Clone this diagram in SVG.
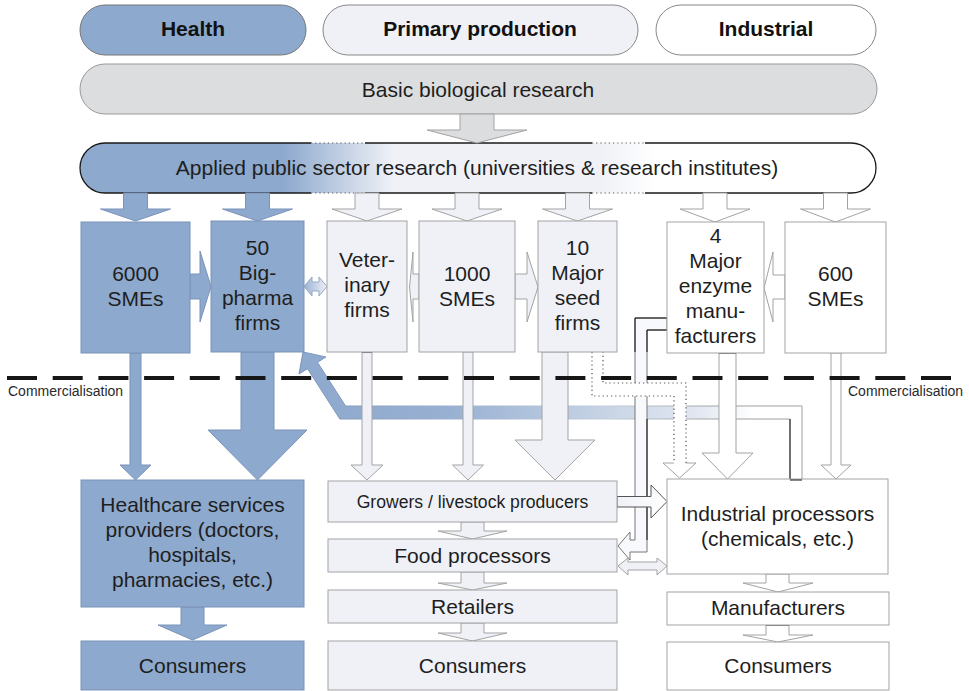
<svg xmlns="http://www.w3.org/2000/svg" width="969" height="691" viewBox="0 0 969 691">
<style>
.blue{fill:#8DA9CD;stroke:#7B93B8;stroke-width:1}
.light{fill:#EFF1F7;stroke:#A3A3A3;stroke-width:1}
.white{fill:#FFFFFF;stroke:#A3A3A3;stroke-width:1}
.grey{fill:#DCDDDF;stroke:#A3A3A3;stroke-width:1}
.t{font-family:"Liberation Sans",Arial,sans-serif;font-size:21px;fill:#1e1e1e;text-anchor:middle}
.b{font-weight:bold;fill:#111}
.sm{font-size:14px;text-anchor:start;fill:#2a2a2a}
.dk{fill:none;stroke:#1a1a1a;stroke-width:1.3}
.dot{fill:none;stroke:#555;stroke-width:1.2;stroke-dasharray:1.2 3}
</style>
<defs>
<linearGradient id="gApplied" gradientUnits="userSpaceOnUse" x1="80" y1="0" x2="876" y2="0">
<stop offset="0.255" stop-color="#8DA9CD"/>
<stop offset="0.393" stop-color="#EFF1F7"/>
<stop offset="0.653" stop-color="#EFF1F7"/>
<stop offset="0.725" stop-color="#FFFFFF"/>
</linearGradient>
<linearGradient id="gReturn" gradientUnits="userSpaceOnUse" x1="300" y1="0" x2="802" y2="0">
<stop offset="0" stop-color="#8DA9CD"/>
<stop offset="0.3" stop-color="#98B0D2"/>
<stop offset="0.62" stop-color="#C9D5E6"/>
<stop offset="0.8" stop-color="#E3E8F1"/>
<stop offset="0.9" stop-color="#FFFFFF"/>
</linearGradient>
<linearGradient id="gReturnS" gradientUnits="userSpaceOnUse" x1="300" y1="0" x2="802" y2="0">
<stop offset="0" stop-color="#7B93B8"/>
<stop offset="0.6" stop-color="#C3CFE0"/>
<stop offset="0.85" stop-color="#A0A0A0"/>
</linearGradient>
<linearGradient id="gBiVet" gradientUnits="userSpaceOnUse" x1="304" y1="0" x2="327" y2="0">
<stop offset="0" stop-color="#9BB2D3"/>
<stop offset="1" stop-color="#EFF1F7"/>
</linearGradient>
<linearGradient id="gGrowInd" gradientUnits="userSpaceOnUse" x1="617" y1="0" x2="667" y2="0">
<stop offset="0" stop-color="#EFF1F7"/>
<stop offset="1" stop-color="#FFFFFF"/>
</linearGradient>
</defs>

<rect width="969" height="691" fill="#FFFFFF"/>

<!-- header pills -->
<g id="hdr-health">
<rect x="80" y="5" width="226" height="50" rx="25" class="blue" style="stroke:#777"/>
<text x="193" y="36" class="t b">Health</text>
</g>
<g id="hdr-primary">
<rect x="323" y="5" width="315" height="50" rx="25" class="light" style="stroke:#888"/>
<text x="480" y="36" class="t b">Primary production</text>
</g>
<g id="hdr-industrial">
<rect x="656" y="5" width="220" height="50" rx="25" class="white" style="stroke:#888"/>
<text x="766" y="36" class="t b">Industrial</text>
</g>

<g id="basic">
<rect x="80" y="64" width="797" height="50" rx="25" class="grey" style="stroke:#999"/>
<text x="478" y="96.5" class="t">Basic biological research</text>
</g>

<g id="applied">
<rect x="80" y="143" width="796" height="50" rx="25" fill="url(#gApplied)"/>
<path class="dk" d="M311,143 L105,143 A25,25 0 0 0 105,193 L311,193 M365,143 L592,143 M365,193 L592,193 M645,143 L851,143 A25,25 0 0 1 851,193 L645,193"/>
<path class="dot" d="M311,143 L365,143 M311,193 L365,193 M592,143 L645,143 M592,193 L645,193"/>
<text x="477" y="175" class="t">Applied public sector research (universities &amp; research institutes)</text>
</g>

<!-- connectors -->
<g id="connectors">
<!-- return arrow from industrial processors to big pharma -->
<polygon points="303,352 326,357 317.5,362.3 345.6,406 802,406 802,480 790,480 790,419 339.8,419 307.5,368.7 299,374" fill="url(#gReturn)" stroke="url(#gReturnS)" stroke-width="1"/>
<path d="M790,419 L790,480 L802,480" fill="none" stroke="#111" stroke-width="1"/>

<!-- basic -> applied -->
<polygon class="grey" points="460,114 494,114 494,130 527,130 477,143 427,130 460,130"/>

<!-- applied -> boxes -->
<polygon class="blue" points="123.5,193 147.5,193 147.5,209 170.5,209 135.5,221 100.5,209 123.5,209"/>
<polygon class="blue" points="245.5,193 269.5,193 269.5,209 292.5,209 257.5,221 222.5,209 245.5,209"/>
<polygon class="light" points="355,193 379,193 379,209 402,209 367,221 332,209 355,209"/>
<polygon class="light" points="455,193 479,193 479,209 502,209 467,221 432,209 455,209"/>
<polygon class="light" points="565.5,193 589.5,193 589.5,209 612.5,209 577.5,221 542.5,209 565.5,209"/>
<polygon class="white" points="703,193 727,193 727,209 750,209 715,222 680,209 703,209"/>
<polygon class="white" points="823.5,193 847.5,193 847.5,209 870.5,209 835.5,222 800.5,209 823.5,209"/>

<!-- horizontal arrows between top boxes -->
<polygon class="blue" points="190,274 200,274 200,251 211,286.5 200,322 200,299 190,299"/>
<polygon points="304,286.5 312,277 312,282 319,282 319,277 327,286.5 319,296 319,291 312,291 312,296" fill="url(#gBiVet)" stroke="#95A8C4" stroke-width="1"/>
<polygon class="light" points="419,274 413,274 413,252 409.5,287 413,322 413,299 419,299"/>
<polygon class="light" points="515,274 527,274 527,252 538,287 527,322 527,299 515,299"/>
<polygon class="white" points="785,275 773,275 773,252 764,288 773,322 773,299 785,299"/>

<!-- down arrows to commercial level -->
<polygon class="blue" points="130,353 141,353 141,465 151,465 135.5,480 120,465 130,465"/>
<polygon class="blue" points="241,352 274,352 274,430 307,430 257.5,480 208,430 241,430"/>
<polygon class="light" points="362,352 372,352 372,465 383,465 367,480 351,465 362,465"/>
<path d="M362,352 L372,352" stroke="#111" stroke-width="1"/>
<polygon class="light" points="463,352 473,352 473,465 483.5,465 468,480 452.5,465 463,465"/>
<polygon class="light" points="542,352 568,352 568,440 595,440 555,480 515,440 542,440"/>
<polygon class="white" points="719,353 736,353 736,453 753,453 727.5,479 702,453 719,453"/>
<path d="M719,353 L736,353" stroke="#111" stroke-width="1"/>
<polygon class="white" points="831,353 841,353 841,465 851,465 836,479 821,465 831,465"/>

<!-- enzyme manufacturers -> food processors -->
<polygon points="667,318 635,318 635,540 630,540 630,532 618,546 630,560 630,552 647,552 647,330 667,330" fill="#F8F9FC" stroke="#777" stroke-width="1"/>
<path d="M635,352 L635,318 L667,318 M647,352 L647,330 L667,330 M647,419 L647,540" fill="none" stroke="#111" stroke-width="1"/>

<!-- seed firms -> industrial processors (dotted) -->
<polygon points="592,352 592,396 674,396 674,463 663,463 679.5,478 696,463 686,463 686,383 603,383 603,352" fill="#FFFFFF"/>
<path class="dot" d="M592,352 L592,396 L674,396 L674,463 M686,463 L686,383 L603,383 L603,352"/>
<path d="M674,463 L663,463 L679.5,478 L696,463 L686,463" fill="none" stroke="#A3A3A3" stroke-width="1"/>

<!-- lower chains -->
<polygon class="blue" points="181,607 204,607 204,625 227,625 192.5,640 158,625 181,625"/>
<polygon class="light" points="461,522 484,522 484,531 507,531 472.5,539 438,531 461,531"/>
<polygon class="light" points="461,572 484,572 484,583 507,583 472.5,590 438,583 461,583"/>
<polygon class="light" points="461,623 484,623 484,633 507,633 472.5,641 438,633 461,633"/>
<polygon class="white" points="766,574 789,574 789,583 813,583 778,592 743,583 766,583"/>
<polygon class="white" points="766,625 789,625 789,635 813,635 778,642 743,635 766,635"/>
<path d="M766,625 L789,625" stroke="#111" stroke-width="1"/>

<polygon points="617,496.5 651,496.5 651,485 667,501.5 651,518 651,507 617,507" fill="url(#gGrowInd)" stroke="#555" stroke-width="1"/>
<polygon class="light" points="618,566 628,558 628,562 657,562 657,558 667,566 657,575 657,570 628,570 628,575"/>

<!-- commercialisation line -->
<line x1="7" y1="378" x2="952" y2="378" stroke="#161616" stroke-width="4" stroke-dasharray="30 15.7"/>
</g>

<!-- top level boxes -->
<g id="n-6000">
<rect x="81" y="222" width="109" height="131" class="blue"/>
<text class="t" x="135.5"><tspan x="135.5" y="281">6000</tspan><tspan x="135.5" y="306">SMEs</tspan></text>
</g>
<g id="n-bigpharma">
<rect x="211" y="221" width="93" height="131" class="blue"/>
<text class="t"><tspan x="257.5" y="255">50</tspan><tspan x="257.5" y="280">Big-</tspan><tspan x="257.5" y="305">pharma</tspan><tspan x="257.5" y="330">firms</tspan></text>
</g>
<g id="n-vet">
<rect x="327" y="221" width="80" height="131" class="light"/>
<text class="t"><tspan x="367" y="267">Veter-</tspan><tspan x="367" y="292">inary</tspan><tspan x="367" y="317">firms</tspan></text>
</g>
<g id="n-1000">
<rect x="419" y="221" width="96" height="131" class="light"/>
<text class="t"><tspan x="467" y="281">1000</tspan><tspan x="467" y="306">SMEs</tspan></text>
</g>
<g id="n-seed">
<rect x="538" y="221" width="79" height="131" class="light"/>
<text class="t"><tspan x="577.5" y="255">10</tspan><tspan x="577.5" y="280">Major</tspan><tspan x="577.5" y="305">seed</tspan><tspan x="577.5" y="330">firms</tspan></text>
</g>
<g id="n-enzyme">
<rect x="667" y="222" width="97" height="131" class="white"/>
<text class="t"><tspan x="715.5" y="243">4</tspan><tspan x="715.5" y="268">Major</tspan><tspan x="715.5" y="293">enzyme</tspan><tspan x="715.5" y="318">manu-</tspan><tspan x="715.5" y="343">facturers</tspan></text>
</g>
<g id="n-600">
<rect x="785" y="222" width="101" height="131" class="white"/>
<text class="t"><tspan x="835.5" y="281">600</tspan><tspan x="835.5" y="306">SMEs</tspan></text>
</g>

<!-- commercialisation labels -->
<text class="t sm" x="8" y="395.5">Commercialisation</text>
<text class="t sm" x="848" y="395.5">Commercialisation</text>

<!-- lower boxes -->
<g id="n-healthcare">
<rect x="81" y="480" width="223" height="127" class="blue"/>
<text class="t"><tspan x="192.5" y="512">Healthcare services</tspan><tspan x="192.5" y="537">providers (doctors,</tspan><tspan x="192.5" y="562">hospitals,</tspan><tspan x="192.5" y="587">pharmacies, etc.)</tspan></text>
</g>
<g id="n-consumers-health">
<rect x="81" y="641" width="223" height="49" class="blue"/>
<text class="t" x="192.5" y="673">Consumers</text>
</g>
<g id="n-growers">
<rect x="328" y="481" width="289" height="41" class="light"/>
<text class="t" x="472.5" y="507.5" style="font-size:17.6px">Growers / livestock producers</text>
</g>
<g id="n-food">
<rect x="328" y="539" width="289" height="33" class="light"/>
<text class="t" x="472.5" y="563">Food processors</text>
</g>
<g id="n-retailers">
<rect x="328" y="590" width="289" height="33" class="light"/>
<text class="t" x="472.5" y="614">Retailers</text>
</g>
<g id="n-consumers-primary">
<rect x="328" y="641" width="289" height="49" class="light"/>
<text class="t" x="472.5" y="673">Consumers</text>
</g>
<g id="n-indproc">
<rect x="667" y="479" width="221" height="95" class="white"/>
<text class="t"><tspan x="777.5" y="520.5">Industrial processors</tspan><tspan x="777.5" y="546">(chemicals, etc.)</tspan></text>
</g>
<path d="M790,480 L802,480" stroke="#111" stroke-width="1"/>
<g id="n-manufacturers">
<rect x="667" y="592" width="222" height="33" class="white"/>
<text class="t" x="778" y="615">Manufacturers</text>
</g>
<g id="n-consumers-ind">
<rect x="667" y="642" width="222" height="48" class="white"/>
<text class="t" x="778" y="673">Consumers</text>
</g>
</svg>
